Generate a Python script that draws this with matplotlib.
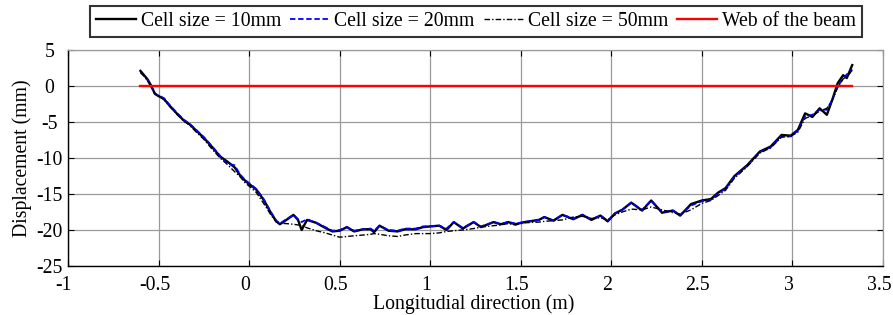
import matplotlib
matplotlib.use("Agg")
import matplotlib.pyplot as plt
from matplotlib.transforms import ScaledTranslation

plt.rcParams['font.family'] = ['Liberation Serif', 'DejaVu Serif']
plt.rcParams['mathtext.fontset'] = 'stix'

x_pos = [-0.60, -0.58, -0.56, -0.54, -0.52, -0.50, -0.47, -0.44, -0.40, -0.36,
         -0.33, -0.30, -0.25, -0.20, -0.16, -0.12, -0.08, -0.05, -0.02, 0.00,
         0.04, 0.08, 0.12, 0.15, 0.17, 0.20, 0.245, 0.27, 0.29, 0.32,
         0.37, 0.42, 0.46, 0.50, 0.54, 0.58, 0.63, 0.67, 0.69, 0.72,
         0.77, 0.82, 0.86, 0.92, 0.96, 1.00, 1.05, 1.09, 1.13, 1.18,
         1.24, 1.28, 1.35, 1.39, 1.43, 1.47, 1.52, 1.60, 1.63, 1.68,
         1.73, 1.79, 1.84, 1.89, 1.94, 1.98, 2.02, 2.06, 2.11, 2.17,
         2.22, 2.28, 2.34, 2.38, 2.44, 2.50, 2.55, 2.59, 2.63, 2.68,
         2.75, 2.82, 2.88, 2.94, 2.99, 3.03, 3.07, 3.11, 3.15, 3.19,
         3.22, 3.25, 3.28, 3.30, 3.33]

disp_10mm = [2.1, 1.5, 0.9, 0.0, -1.1, -1.4, -1.8, -2.7, -3.8, -4.8,
             -5.3, -6.0, -7.2, -8.6, -9.8, -10.5, -11.3, -12.4, -13.2, -13.6,
             -14.4, -15.8, -17.6, -18.8, -19.2, -18.7, -17.9, -18.6, -20.0, -18.6,
             -19.0, -19.7, -20.2, -20.1, -19.6, -20.2, -19.9, -19.9, -20.3, -19.4,
             -20.1, -20.2, -19.9, -19.9, -19.6, -19.5, -19.4, -20.0, -18.9, -19.8,
             -18.9, -19.6, -18.9, -19.2, -18.9, -19.2, -18.9, -18.6, -18.2, -18.7,
             -17.9, -18.5, -17.9, -18.6, -18.0, -18.8, -17.7, -17.2, -16.2, -17.3,
             -15.9, -17.6, -17.3, -18.0, -16.4, -15.9, -15.7, -14.8, -14.2, -12.5,
             -11.0, -9.1, -8.4, -6.8, -6.9, -6.1, -3.8, -4.3, -3.1, -4.0,
             -1.9, 0.4, 1.5, 1.1, 2.9]

disp_20mm = [1.9, 1.4, 0.8, -0.1, -1.1, -1.3, -1.7, -2.6, -3.7, -4.7,
             -5.2, -5.9, -7.1, -8.5, -9.7, -10.8, -11.0, -12.3, -13.1, -13.5,
             -14.3, -15.7, -17.5, -18.7, -19.1, -18.6, -17.9, -18.5, -18.9, -18.5,
             -19.0, -19.6, -20.1, -20.0, -19.6, -20.1, -19.9, -19.8, -20.1, -19.4,
             -20.0, -20.1, -19.8, -19.8, -19.5, -19.5, -19.4, -19.8, -18.9, -19.7,
             -18.9, -19.5, -18.9, -19.2, -18.9, -19.1, -18.9, -18.6, -18.2, -18.7,
             -17.9, -18.4, -17.9, -18.5, -18.0, -18.7, -17.7, -17.2, -16.2, -17.2,
             -15.9, -17.5, -17.3, -17.9, -16.6, -16.0, -15.8, -14.9, -14.3, -12.6,
             -11.1, -9.2, -8.5, -7.0, -7.0, -6.2, -4.2, -4.0, -3.3, -3.3,
             -1.9, 0.0, 1.0, 1.6, 2.3]

disp_50mm = [1.9, 1.4, 0.7, -0.2, -1.0, -1.4, -1.9, -2.8, -3.9, -4.9,
             -5.4, -6.2, -7.4, -8.9, -10.0, -10.9, -11.9, -12.6, -13.5, -13.9,
             -14.8, -16.3, -17.9, -18.9, -19.1, -19.1, -19.2, -19.3, -19.4, -19.7,
             -20.1, -20.4, -20.7, -21.0, -20.9, -20.8, -20.7, -20.6, -20.5, -20.6,
             -20.8, -20.9, -20.7, -20.5, -20.5, -20.5, -20.4, -20.2, -20.1, -20.0,
             -19.8, -19.6, -19.4, -19.3, -19.1, -19.3, -19.0, -18.9, -18.8, -18.7,
             -18.6, -18.2, -18.1, -18.4, -18.3, -18.6, -17.9, -17.5, -17.1, -17.2,
             -16.8, -17.2, -17.6, -17.8, -17.2, -16.3, -15.9, -15.2, -14.5, -12.8,
             -11.2, -9.3, -8.6, -7.1, -7.0, -6.4, -4.5, -4.1, -3.5, -3.1,
             -2.0, -0.2, 1.0, 1.2, 2.2]

web_x = [-0.60, 3.33]
web_y = [0.0, 0.0]

labels = ['Cell size = 10mm', 'Cell size = 20mm', 'Cell size = 50mm', 'Web of the beam']
x_ticks = [-1, -0.5, 0, 0.5, 1, 1.5, 2, 2.5, 3, 3.5]
x_ticklabels = ['-1', '-0.5', '0', '0.5', '1', '1.5', '2', '2.5', '3', '3.5']
y_ticks = [-25, -20, -15, -10, -5, 0, 5]
y_ticklabels = ['-25', '-20', '-15', '-10', '-5', '0', '5']

FS = 14.2

fig = plt.figure(figsize=(8.93, 3.15), dpi=100)
ax = fig.add_axes([68/893, 1-266/315, (883-68)/893, (266-50)/315])

l1, = ax.plot(x_pos, disp_10mm, color='black', lw=1.7, ls='-', label=labels[0])
l2, = ax.plot(x_pos, disp_20mm, color='blue', lw=1.3, ls=(0, (3, 1.5)), label=labels[1])
l3, = ax.plot(x_pos, disp_50mm, color='black', lw=1.0, ls=(0, (4, 1.5, 1, 1.5)), label=labels[2])
l4, = ax.plot(web_x, web_y, color='red', lw=1.7, ls='-', label=labels[3])

ax.set_xlim(-1, 3.5)
ax.set_ylim(-25, 5)
ax.set_xticks(x_ticks)
ax.set_xticklabels(x_ticklabels)
ax.set_yticks(y_ticks)
ax.set_yticklabels(y_ticklabels)
ax.grid(True, color='#9a9a9a', lw=0.9, ls='-')
ax.set_axisbelow(True)
ax.tick_params(direction='in', length=4, width=0.8, top=True, right=True,
               labelsize=FS)
ax.tick_params(axis='x', pad=7.5)
ax.tick_params(axis='y', pad=13.5)
for lbl in ax.get_yticklabels():
    lbl.set_horizontalalignment('center')
shift = ScaledTranslation(-4/100, 0, fig.dpi_scale_trans)
for lbl in ax.get_xticklabels():
    lbl.set_transform(lbl.get_transform() + shift)

for s in ['left', 'bottom']:
    ax.spines[s].set_color('black')
    ax.spines[s].set_linewidth(1.0)
for s in ['top', 'right']:
    ax.spines[s].set_color('#9a9a9a')
    ax.spines[s].set_linewidth(0.9)

ax.set_xlabel('Longitudial direction (m)', fontsize=FS)
ax.xaxis.set_label_coords(0.4975, (266-294)/216)
ax.set_ylabel('Displacement (mm)', fontsize=FS)
ax.yaxis.set_label_coords((32-68)/815, 0.5)

leg = fig.legend(handles=[l1, l2, l3, l4], loc='lower center',
                 bbox_to_anchor=(476/893, 1-37/315), ncol=4, fontsize=FS,
                 frameon=True, fancybox=False, edgecolor='black',
                 handlelength=2.0, handletextpad=0.25, columnspacing=0.45,
                 borderpad=0.3, borderaxespad=0)
leg.get_frame().set_linewidth(1.5)

fig.savefig('out.png', dpi=100)
